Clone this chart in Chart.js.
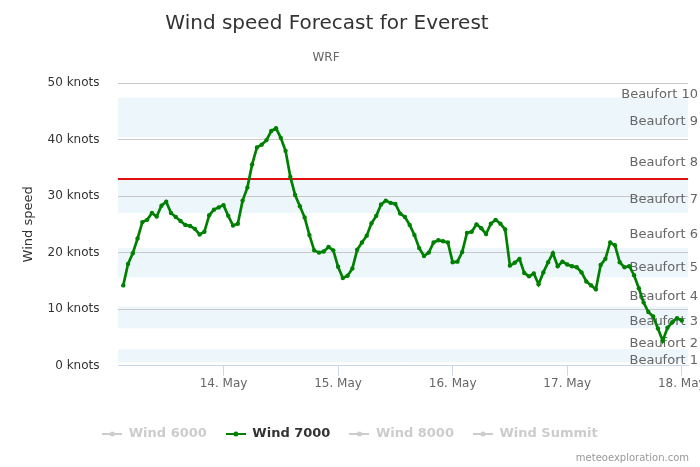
<html>
<head>
<script src="https://cdn.jsdelivr.net/npm/chart.js"></script>
<style>
  body { margin: 0; background: #fff; }
</style>
</head>
<body>
<div style="width:700px;height:467px">
<canvas id="myChart" width="700" height="467"></canvas>
</div>
<script>
// hourly wind at 7000 m, knots, from 13 May 03:00 to 18 May 00:00
var firstHour = 3; // hours after 13 May 00:00
var wind7000 = [
  14.2, 18.0, 19.9, 22.5, 25.4, 25.8, 27.0, 26.4, 28.3, 29.0,
  27.0, 26.3, 25.6, 24.9, 24.7, 24.2, 23.2, 23.7, 26.6, 27.6,
  28.0, 28.4, 26.5, 24.8, 25.1, 29.2, 31.5, 35.6, 38.6, 39.1,
  39.9, 41.5, 42.0, 40.3, 38.0, 33.4, 30.2, 28.2, 26.2, 23.1,
  20.4, 20.0, 20.2, 21.0, 20.4, 17.5, 15.5, 15.9, 17.2, 20.5,
  21.8, 23.0, 25.2, 26.5, 28.5, 29.2, 28.8, 28.6, 26.9, 26.3,
  24.9, 23.1, 20.8, 19.4, 20.0, 21.8, 22.2, 22.0, 21.8, 18.3,
  18.4, 20.1, 23.5, 23.7, 25.0, 24.3, 23.3, 25.1, 25.8, 25.1,
  24.1, 17.7, 18.2, 18.9, 16.4, 15.8, 16.3, 14.4, 16.5, 18.3,
  19.9, 17.6, 18.4, 17.9, 17.6, 17.4, 16.5, 14.9, 14.2, 13.5,
  17.8, 18.9, 21.8, 21.3, 18.3, 17.4, 17.6, 16.0, 13.7, 11.2,
  9.5, 8.7, 6.6, 4.4, 6.7, 7.7, 8.4, 8.0
];
var seriesNames = ["Wind 6000", "Wind 7000", "Wind 8000", "Wind Summit"];
var dayTicks = [24, 48, 72, 96, 120];
var dayLabels = ["14. May", "15. May", "16. May", "17. May", "18. May"];
var yTicks = [0, 10, 20, 30, 40, 50];
var limitKnots = 33;
var beaufortNames = ["Beaufort 1", "Beaufort 2", "Beaufort 3", "Beaufort 4", "Beaufort 5",
                     "Beaufort 6", "Beaufort 7", "Beaufort 8", "Beaufort 9", "Beaufort 10"];
var beaufortFrom = [0.6, 3.1, 6.6, 10.7, 15.6, 21.0, 27.0, 33.4, 40.4, 47.6];
var beaufortTo   = [2.9, 6.4, 10.5, 15.4, 20.8, 26.8, 33.2, 40.2, 47.4, 55.2];

Chart.defaults.font.family = '"DejaVu Sans", sans-serif';

var legendSymbol = function(color) {
  var c = document.createElement('canvas');
  c.width = 20; c.height = 10;
  var g = c.getContext('2d');
  g.strokeStyle = color; g.lineWidth = 2;
  g.beginPath(); g.moveTo(0, 5); g.lineTo(20, 5); g.stroke();
  g.fillStyle = color;
  g.beginPath(); g.arc(10, 5, 2.5, 0, Math.PI * 2); g.fill();
  return c;
};

// plot bands, red limit line, band labels, titles
var decorations = {
  id: 'decorations',
  beforeDatasetsDraw: function(chart) {
    var ctx = chart.ctx, a = chart.chartArea, y = chart.scales.y;
    ctx.save();
    ctx.beginPath(); ctx.rect(a.left, a.top, a.right - a.left, a.bottom - a.top); ctx.clip();
    // grid is already drawn: paint the bands behind it
    ctx.globalCompositeOperation = 'destination-over';
    ctx.fillStyle = 'rgba(68,170,213,0.1)';
    for (var i = 0; i < beaufortNames.length; i += 2) {
      var t = y.getPixelForValue(beaufortTo[i]), b = y.getPixelForValue(beaufortFrom[i]);
      ctx.fillRect(a.left, t, a.right - a.left, b - t);
    }
    ctx.fillStyle = '#ffffff';
    ctx.fillRect(a.left, a.top, a.right - a.left, a.bottom - a.top);
    ctx.restore();

    ctx.save();
    var ly = y.getPixelForValue(limitKnots);
    ctx.strokeStyle = '#e01010'; ctx.lineWidth = 2;
    ctx.beginPath(); ctx.moveTo(a.left, ly); ctx.lineTo(a.right, ly); ctx.stroke();

    ctx.font = '13px "DejaVu Sans"';
    ctx.fillStyle = '#666666';
    ctx.textAlign = 'right'; ctx.textBaseline = 'middle';
    for (var j = 0; j < beaufortNames.length; j++) {
      var lo = Math.max(beaufortFrom[j], y.min), hi = Math.min(beaufortTo[j], y.max);
      ctx.fillText(beaufortNames[j], 698, y.getPixelForValue((lo + hi) / 2) + 4.5);
    }
    ctx.restore();
  },
  afterDraw: function(chart) {
    var ctx = chart.ctx;
    ctx.save();
    ctx.textAlign = 'center'; ctx.textBaseline = 'alphabetic';
    ctx.fillStyle = '#333333';
    ctx.font = '20px "DejaVu Sans"';
    ctx.fillText('Wind speed Forecast for Everest', 327, 29);
    ctx.fillStyle = '#666666';
    ctx.font = '12px "DejaVu Sans"';
    ctx.fillText('WRF', 326, 61);
    ctx.textAlign = 'right';
    ctx.fillStyle = '#999999';
    ctx.font = '10px "DejaVu Sans"';
    ctx.fillText('meteoexploration.com', 689, 461);
    ctx.restore();
  }
};

var chart = function() {
  var ctx = document.getElementById('myChart').getContext('2d');
  var datasets = seriesNames.map(function(name) {
    var on = name === "Wind 7000";
    return {
      label: name,
      hidden: !on,
      data: on ? wind7000.map(function(v, i) { return {x: firstHour + i, y: v}; }) : [],
      borderColor: on ? '#008000' : '#cccccc',
      backgroundColor: on ? '#008000' : '#cccccc',
      borderWidth: 2.7,
      pointRadius: 2.2,
      pointBorderWidth: 0,
      tension: 0
    };
  });
  new Chart(ctx, {
    type: 'line',
    data: { datasets: datasets },
    options: {
      responsive: false,
      animation: false,
      layout: { padding: { top: 83, left: 0, right: 0, bottom: 16.5 } },
      plugins: {
        tooltip: { enabled: false },
        legend: {
          position: 'bottom',
          labels: {
            usePointStyle: true,
            pointStyleWidth: 20,
            padding: 19,
            font: { size: 13, weight: 'bold' },
            generateLabels: function(c) {
              return c.data.datasets.map(function(ds, i) {
                var on = c.isDatasetVisible(i);
                return {
                  text: ds.label,
                  datasetIndex: i,
                  hidden: false,
                  fontColor: on ? '#333333' : '#cccccc',
                  pointStyle: legendSymbol(on ? ds.borderColor : '#cccccc'),
                  lineWidth: 0
                };
              });
            }
          }
        }
      },
      scales: {
        x: {
          type: 'linear',
          min: 1.9,
          max: 121.3,
          afterBuildTicks: function(s) { s.ticks = dayTicks.map(function(v) { return {value: v}; }); },
          afterFit: function(s) { s.height = 42.8; s.paddingLeft = 0; s.paddingRight = 0; },
          grid: { drawOnChartArea: false, tickLength: 10, tickColor: '#ccd6eb' },
          border: { color: '#ccd6eb' },
          ticks: {
            padding: 1,
            maxRotation: 0,
            color: '#666666',
            font: { size: 12 },
            callback: function(v) { return dayLabels[dayTicks.indexOf(v)]; }
          }
        },
        y: {
          min: 0,
          max: 50,
          afterBuildTicks: function(s) { s.ticks = yTicks.map(function(v) { return {value: v}; }); },
          afterFit: function(s) { s.width = 118; },
          grid: { color: '#c8c8c8', drawTicks: false },
          border: { display: false },
          ticks: {
            padding: 18.5,
            color: '#333333',
            font: { size: 12 },
            callback: function(v) { return v + ' knots'; }
          },
          title: {
            display: true,
            text: 'Wind speed',
            color: '#333333',
            font: { size: 13 },
            padding: { top: 21, bottom: 0 }
          }
        },
        y2: {
          type: 'linear',
          position: 'right',
          display: true,
          afterFit: function(s) { s.width = 12; },
          grid: { display: false },
          border: { display: false },
          ticks: { display: false }
        }
      }
    },
    plugins: [decorations]
  });
};

window.onload = function() { chart(); };
</script>
</body>
</html>
